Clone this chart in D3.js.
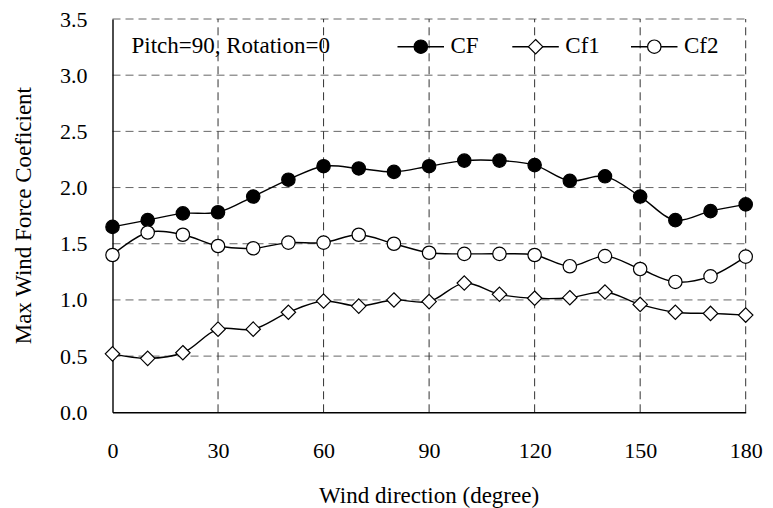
<!DOCTYPE html>
<html>
<head>
<meta charset="utf-8">
<script src="https://d3js.org/d3.v7.min.js"></script>
<style>
  body { margin: 0; background: #fff; }
  svg text { font-family: "Liberation Serif", "Times New Roman", serif; fill: #000; }
</style>
</head>
<body>
<svg id="vis"></svg>
<script>
  var width = 773, height = 508
  var margin = {left: 112.5, right: 27.3, top: 19, bottom: 95.7}
  var tickFont = '22px'
  var titleFont = '23px'

  // data
  var angles = [0, 10, 20, 30, 40, 50, 60, 70, 80, 90, 100, 110, 120, 130, 140, 150, 160, 170, 180]
  var cf  = [1.65, 1.71, 1.77, 1.78, 1.92, 2.07, 2.19, 2.17, 2.14, 2.19, 2.24, 2.24, 2.20, 2.06, 2.10, 1.92, 1.71, 1.79, 1.85]
  var cf1 = [0.52, 0.48, 0.53, 0.74, 0.74, 0.89, 0.99, 0.945, 1.0, 0.985, 1.15, 1.05, 1.015, 1.02, 1.07, 0.96, 0.89, 0.88, 0.865]
  var cf2 = [1.40, 1.60, 1.58, 1.48, 1.46, 1.51, 1.51, 1.58, 1.50, 1.42, 1.41, 1.41, 1.40, 1.30, 1.39, 1.275, 1.16, 1.21, 1.385]
  var xTicks = [0, 30, 60, 90, 120, 150, 180]
  var yTicks = [0, 0.5, 1.0, 1.5, 2.0, 2.5, 3.0, 3.5]

  var svg = d3.select('#vis')
      .attr('width', width)
      .attr('height', height)

  var x = d3.scaleLinear()
    .domain([0, 180])
    .range([margin.left, width - margin.right])
  var y = d3.scaleLinear()
    .domain([0, 3.5])
    .range([height - margin.bottom, margin.top])

  // Grid
  svg.append('g')
    .selectAll('line')
    .data(yTicks.slice(1))
    .enter().append('line')
    .attr('x1', x(0)).attr('x2', x(180))
    .attr('y1', function (d) { return y(d) })
    .attr('y2', function (d) { return y(d) })
    .attr('stroke', '#666')
    .attr('stroke-dasharray', '8,5')
  svg.append('g')
    .selectAll('line')
    .data(xTicks.slice(1))
    .enter().append('line')
    .attr('y1', y(0)).attr('y2', y(3.5))
    .attr('x1', function (d) { return x(d) })
    .attr('x2', function (d) { return x(d) })
    .attr('stroke', '#333')
    .attr('stroke-dasharray', '8,5')

  // Axes
  svg.append('g')
    .attr('transform', 'translate(0,' + y(0) + ')')
    .call(d3.axisBottom(x).tickValues(xTicks).tickSize(0).tickPadding(30))
  svg.append('g')
    .attr('transform', 'translate(' + x(0) + ',0)')
    .call(d3.axisLeft(y).tickValues(yTicks).tickSize(0).tickPadding(25).tickFormat(d3.format('.1f')))
  svg.selectAll('.domain').attr('stroke', '#000').attr('stroke-width', 1.4)
  svg.selectAll('.tick text')
    .style('font-family', '"Liberation Serif", serif')
    .style('font-size', tickFont)

  // Axis titles
  svg.append('text')
    .attr('x', (x(0) + x(180)) / 2)
    .attr('y', 503)
    .attr('text-anchor', 'middle')
    .style('font-size', titleFont)
    .text('Wind direction (degree)')
  svg.append('text')
    .attr('transform', 'translate(31,' + ((y(0) + y(3.5)) / 2) + ') rotate(-90)')
    .attr('text-anchor', 'middle')
    .style('font-size', titleFont)
    .text('Max Wind Force Coeficient')

  // Lines
  var series = [
    {name: 'CF', values: cf, shape: 'circle', fill: '#000'},
    {name: 'Cf1', values: cf1, shape: 'diamond', fill: '#fff'},
    {name: 'Cf2', values: cf2, shape: 'circle', fill: '#fff'}
  ]

  var line = d3.line()
    .x(function (d, i) { return x(angles[i]) })
    .y(function (d) { return y(d) })
    .curve(d3.curveCatmullRom.alpha(0.5))

  function marker(g, s, cx, cy) {
    if (s.shape == 'circle') {
      g.append('circle')
        .attr('cx', cx).attr('cy', cy).attr('r', 6.7)
        .attr('fill', s.fill).attr('stroke', '#000').attr('stroke-width', 1.2)
    } else {
      var r = 7.2
      g.append('polygon')
        .attr('points', [[cx, cy - r], [cx + r, cy], [cx, cy + r], [cx - r, cy]].join(' '))
        .attr('fill', s.fill).attr('stroke', '#000').attr('stroke-width', 1.2)
    }
  }

  series.forEach(function (s) {
    var g = svg.append('g')
    g.append('path')
      .attr('d', line(s.values))
      .attr('fill', 'none')
      .attr('stroke', '#000')
      .attr('stroke-width', 1.4)
    s.values.forEach(function (v, i) {
      marker(g, s, x(angles[i]), y(v))
    })
  })

  // Legend
  svg.append('text')
    .attr('x', 131.5)
    .attr('y', 53.3)
    .style('font-size', titleFont)
    .text('Pitch=90, Rotation=0')

  var legendX = [397.5, 512.3, 631]
  series.forEach(function (s, i) {
    var lg = svg.append('g')
    var lx = legendX[i], ly = 46.7
    lg.append('line')
      .attr('x1', lx).attr('x2', lx + 46.5)
      .attr('y1', ly).attr('y2', ly)
      .attr('stroke', '#000').attr('stroke-width', 1.4)
    marker(lg, s, lx + 23.3, ly)
    lg.append('text')
      .attr('x', lx + 53)
      .attr('y', ly + 6.3)
      .style('font-family', '"Liberation Serif", serif')
      .style('font-size', titleFont)
      .text(s.name)
  })
</script>
</body>
</html>
